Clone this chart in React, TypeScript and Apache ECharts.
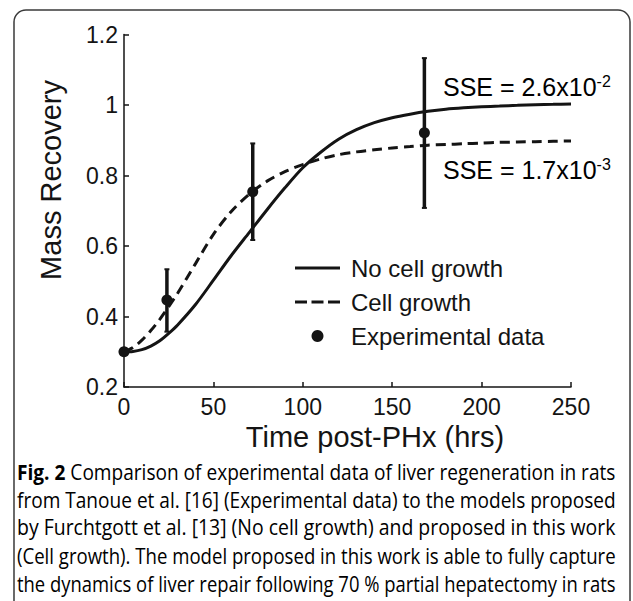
import React, { useEffect, useRef } from "react";
import * as echarts from "echarts";

// ---------- data ----------
const timeHrs = [0, 5, 10, 15, 20, 25, 30, 40, 50, 60, 70, 80, 90, 100, 110, 120, 130, 140, 150, 160, 170, 180, 190, 200, 210, 220, 230, 240, 250];
const noCellGrowth = [0.300, 0.301, 0.306, 0.316, 0.331, 0.352, 0.376, 0.434, 0.503, 0.573, 0.638, 0.703, 0.765, 0.822, 0.866, 0.903, 0.930, 0.950, 0.964, 0.974, 0.982, 0.988, 0.992, 0.995, 0.997, 0.999, 1.001, 1.002, 1.003];
const cellGrowth = [0.300, 0.312, 0.333, 0.360, 0.392, 0.428, 0.466, 0.550, 0.633, 0.698, 0.747, 0.784, 0.811, 0.831, 0.847, 0.859, 0.867, 0.873, 0.878, 0.882, 0.886, 0.888, 0.890, 0.892, 0.894, 0.895, 0.896, 0.897, 0.898];
const expTime = [0, 24, 72, 168];
const expMean = [0.300, 0.447, 0.754, 0.921];
const expLow = [null, 0.357, 0.617, 0.708];
const expHigh = [null, 0.534, 0.891, 1.133];
const seriesNames = ["No cell growth", "Cell growth", "Experimental data"];
const sseLabels = [
  { text: "SSE = 2.6x10", exp: "-2" },
  { text: "SSE = 1.7x10", exp: "-3" },
];
const xAxisTitle = "Time post-PHx (hrs)";
const yAxisTitle = "Mass Recovery";
const captionBold = "Fig. 2";
const captionLines = [
  " Comparison of experimental data of liver regeneration in rats",
  "from Tanoue et al. [16] (Experimental data) to the models proposed",
  "by Furchtgott et al. [13] (No cell growth) and proposed in this work",
  "(Cell growth). The model proposed in this work is able to fully capture",
  "the dynamics of liver repair following 70 % partial hepatectomy in rats",
];

const FONT = "'Liberation Sans', Arial, sans-serif";
const CAPFONT = "'Open Sans', sans-serif";
const INK = "#141414";

export default function App() {
  const ref = useRef<HTMLDivElement>(null);
  useEffect(() => {
    if (!ref.current) return;
    const chart = echarts.init(ref.current, null, { renderer: "svg" });

    const lineData = (ys: number[]) => timeHrs.map((t, i) => [t, ys[i]]);
    const errData = expTime
      .map((t, i) => [t, expLow[i], expHigh[i]])
      .filter((d) => d[1] !== null);

    // caption: measure natural width to compress each justified line into the box
    const capSize = 22;
    const capWidth = 599;
    const ctx = document.createElement("canvas").getContext("2d") as CanvasRenderingContext2D;
    const measure = (txt: string, weight: string) => {
      ctx.font = `${weight} ${capSize}px ${CAPFONT}`;
      return ctx.measureText(txt).width;
    };
    const captionY0 = 471;
    const captionGap = 28;

    const option: any = {
      animation: false,
      backgroundColor: "#ffffff",
      grid: { left: 124, right: 62, top: 34.5, bottom: 214, containLabel: false },
      xAxis: {
        type: "value",
        min: 0,
        max: 250,
        interval: 50,
        axisLine: { show: true, lineStyle: { color: INK, width: 1.5 } },
        axisTick: { show: true, inside: true, length: 5, lineStyle: { color: INK, width: 1.5 } },
        axisLabel: { margin: 8, fontSize: 23, fontFamily: FONT, color: INK },
        splitLine: { show: false },
      },
      yAxis: {
        type: "value",
        min: 0.2,
        max: 1.2,
        interval: 0.2,
        axisLine: { show: true, lineStyle: { color: INK, width: 1.5 } },
        axisTick: { show: true, inside: true, length: 5, lineStyle: { color: INK, width: 1.5 } },
        axisLabel: {
          margin: 6,
          fontSize: 23,
          fontFamily: FONT,
          color: INK,
          formatter: (v: number) => String(parseFloat(v.toFixed(1))),
        },
        splitLine: { show: false },
      },
      legend: {
        orient: "vertical",
        left: 290,
        top: 251,
        itemWidth: 45,
        itemHeight: 12,
        itemGap: 10,
        data: [
          { name: seriesNames[0], icon: "path://M0,0h45v3h-45z" },
          { name: seriesNames[1], icon: "path://M0,0h12v3h-12zM16.5,0h12v3h-12zM33,0h12v3h-12z" },
          { name: seriesNames[2], icon: "circle" },
        ],
        textStyle: { fontSize: 24, lineHeight: 24, fontFamily: FONT, color: INK, padding: [0, 0, 0, 6] },
      },
      series: [
        {
          name: seriesNames[0],
          type: "line",
          data: lineData(noCellGrowth),
          smooth: 0.3,
          symbol: "none",
          lineStyle: { color: INK, width: 3, type: "solid" },
          itemStyle: { color: INK },
          z: 3,
        },
        {
          name: seriesNames[1],
          type: "line",
          data: lineData(cellGrowth),
          smooth: 0.3,
          symbol: "none",
          lineStyle: { color: INK, width: 3, type: [10, 6] },
          itemStyle: { color: INK },
          z: 3,
        },
        {
          name: "error",
          type: "custom",
          data: errData,
          renderItem: (params: any, api: any) => {
            const x = api.value(0);
            const p1 = api.coord([x, api.value(1)]);
            const p2 = api.coord([x, api.value(2)]);
            const cap = 2.5;
            const st = { stroke: INK, lineWidth: 3.5 };
            return {
              type: "group",
              children: [
                { type: "line", shape: { x1: p1[0], y1: p1[1], x2: p2[0], y2: p2[1] }, style: st },
                { type: "line", shape: { x1: p1[0] - cap, y1: p1[1], x2: p1[0] + cap, y2: p1[1] }, style: { stroke: INK, lineWidth: 2 } },
                { type: "line", shape: { x1: p2[0] - cap, y1: p2[1], x2: p2[0] + cap, y2: p2[1] }, style: { stroke: INK, lineWidth: 2 } },
              ],
            };
          },
          z: 4,
        },
        {
          name: seriesNames[2],
          type: "scatter",
          data: expTime.map((t, i) => [t, expMean[i]]),
          symbol: "circle",
          symbolSize: 11,
          itemStyle: { color: INK, opacity: 1 },
          z: 5,
        },
      ],
      graphic: [
        {
          type: "rect",
          shape: { x: 14, y: 10, width: 616, height: 640, r: 12 },
          style: { fill: "none", stroke: "#3a3a3a", lineWidth: 1.5 },
          silent: true,
          z: 0,
        },
        {
          type: "text",
          x: 51,
          y: 180,
          rotation: Math.PI / 2,
          style: { text: yAxisTitle, fontSize: 29, fontFamily: FONT, fill: INK, align: "center", verticalAlign: "middle" },
        },
        {
          type: "text",
          x: 375,
          y: 437,
          style: { text: xAxisTitle, fontSize: 29, fontFamily: FONT, fill: INK, align: "center", verticalAlign: "middle" },
        },
        ...sseLabels.map((s, i) => ({
          type: "text",
          x: 443,
          y: i === 0 ? 87 : 170,
          style: {
            text: `{b|${s.text}}{s|${s.exp}}`,
            verticalAlign: "middle",
            rich: {
              b: { fontSize: 25, fontFamily: FONT, color: INK },
              s: { fontSize: 16, fontFamily: FONT, color: INK, verticalAlign: "top", padding: [0, 0, 12, 0] },
            },
          },
        })),
        ...captionLines.map((line, i) => {
          const w = (i === 0 ? measure(captionBold, "bold") : 0) + measure(line, "normal");
          const sx = w > 0 ? capWidth / w : 1;
          return {
            type: "text",
            x: 17,
            y: captionY0 + i * captionGap,
            scaleX: sx,
            style: {
              text: i === 0 ? `{bold|${captionBold}}{n|${line}}` : `{n|${line}}`,
              verticalAlign: "middle",
              rich: {
                bold: { fontSize: capSize, fontWeight: "bold", fontFamily: CAPFONT, color: "#1a1a1a" },
                n: { fontSize: capSize, fontFamily: CAPFONT, color: "#2a2a2a" },
              },
            },
          };
        }),
      ],
    };
    chart.setOption(option);
    return () => chart.dispose();
  }, []);

  return (
    <div
      ref={ref}
      style={{ position: "absolute", left: 0, top: 0, width: 633, height: 601, background: "#fff" }}
    />
  );
}
